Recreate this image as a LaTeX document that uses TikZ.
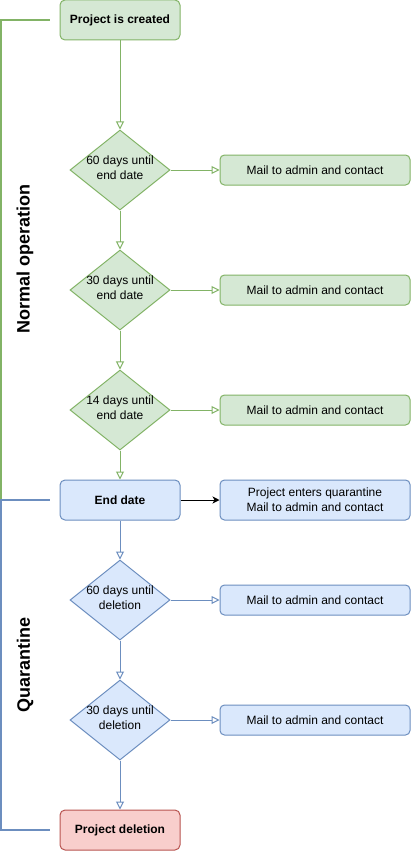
\documentclass[tikz,border=0pt]{standalone}
\usepackage{fontspec}
\setmainfont{Liberation Sans}
\usetikzlibrary{shapes.geometric,arrows.meta}

\definecolor{vertF}{HTML}{D5E8D4}
\definecolor{vertT}{HTML}{82B366}
\definecolor{bleuF}{HTML}{DAE8FC}
\definecolor{bleuT}{HTML}{6C8EBF}
\definecolor{rougeF}{HTML}{F8CECC}
\definecolor{rougeT}{HTML}{B85450}

\begin{document}
\begin{tikzpicture}[x=1pt,y=-1pt,
    font=\fontsize{12}{15}\selectfont,
    boite/.style={draw,rounded corners=5pt,line width=1pt,minimum width=120pt,
        minimum height=40pt,inner sep=0pt,font=\fontsize{12}{15}\selectfont\bfseries},
    courrier/.style={draw,rounded corners=4.5pt,line width=1pt,minimum width=190pt,
        minimum height=30pt,inner sep=0pt,align=center},
    losange/.style={diamond,draw,line width=1pt,minimum width=100pt,
        minimum height=80pt,inner sep=0pt},
    fleche/.style={line width=1pt,-{Triangle[open,length=8pt,width=8pt]}},
    vert/.style={draw=vertT,fill=vertF},
    bleu/.style={draw=bleuT,fill=bleuF},
    rouge/.style={draw=rougeT,fill=rougeF}]
\useasboundingbox (0,0) rectangle (412,851);

% Fonctionnement normal
\node[boite,vert] (cree) at (120,20) {Project is created};
\node[losange,vert,label={[align=center,yshift=2pt]center:60 days until\\end date}] (j60) at (120,170) {};
\node[losange,vert,label={[align=center,yshift=2pt]center:30 days until\\end date}] (j30) at (120,290) {};
\node[losange,vert,label={[align=center,yshift=2pt]center:14 days until\\end date}] (j14) at (120,410) {};
\node[courrier,vert] (m60) at (315,170) {Mail to admin and contact};
\node[courrier,vert] (m30) at (315,290) {Mail to admin and contact};
\node[courrier,vert] (m14) at (315,410) {Mail to admin and contact};

% Quarantaine
\node[boite,bleu] (fin) at (120,500) {End date};
\node[courrier,bleu,minimum height=40pt] (quar) at (315,500) {Project enters quarantine\\Mail to admin and contact};
\node[losange,bleu,label={[align=center,yshift=2pt]center:60 days until\\deletion}] (s60) at (120,600) {};
\node[losange,bleu,label={[align=center,yshift=2pt]center:30 days until\\deletion}] (s30) at (120,720) {};
\node[courrier,bleu] (ms60) at (315,600) {Mail to admin and contact};
\node[courrier,bleu] (ms30) at (315,720) {Mail to admin and contact};
\node[boite,rouge] (suppr) at (120,830) {Project deletion};

% Fleches
\draw[fleche,vertT] (cree) -- (j60);
\draw[fleche,vertT] (j60) -- (j30);
\draw[fleche,vertT] (j30) -- (j14);
\draw[fleche,vertT] (j14) -- (fin);
\draw[fleche,vertT] (j60) -- (m60);
\draw[fleche,vertT] (j30) -- (m30);
\draw[fleche,vertT] (j14) -- (m14);
\draw[line width=1pt,-{Stealth[length=7pt,width=7pt,inset=2pt]}] (fin) -- (quar);
\draw[fleche,bleuT] (fin) -- (s60);
\draw[fleche,bleuT] (s60) -- (s30);
\draw[fleche,bleuT] (s30) -- (suppr);
\draw[fleche,bleuT] (s60) -- (ms60);
\draw[fleche,bleuT] (s30) -- (ms30);

% Accolades laterales
\draw[vertT,line width=1.5pt] ([xshift=-10pt]cree.west) -| (1,500);
\draw[bleuT,line width=1.5pt] ([xshift=-10pt]fin.west) -- (1,500) |- ([xshift=-10pt]suppr.west);
\node[rotate=90,font=\fontsize{18}{20}\selectfont\bfseries] (normal) at (25,259) {Normal operation};
\node[rotate=90,font=\fontsize{18}{20}\selectfont\bfseries] (quarant) at (25,665) {Quarantine};
\end{tikzpicture}
\end{document}
